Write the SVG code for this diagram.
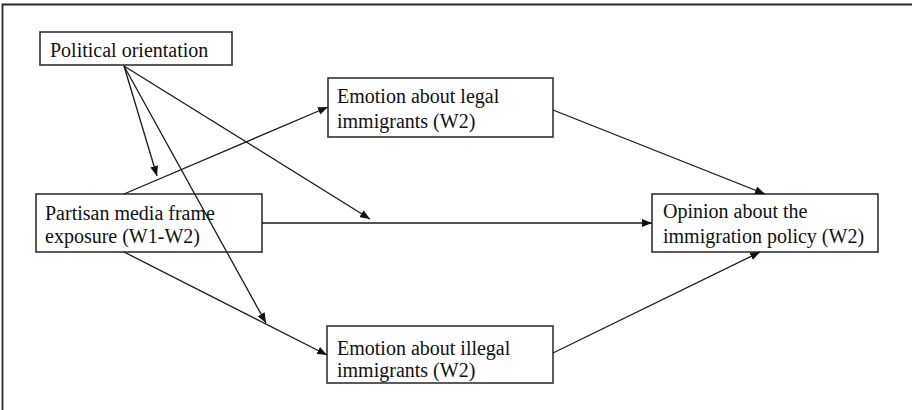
<svg xmlns="http://www.w3.org/2000/svg" width="912" height="410" viewBox="0 0 912 410">
<defs>
<marker id="ah" markerUnits="userSpaceOnUse" markerWidth="10" markerHeight="8" refX="10" refY="4" orient="auto">
<path d="M0,0 L10,4 L0,8 z" fill="#111"/>
</marker>
<style>
.box{fill:#fff;stroke:#333;stroke-width:1.6}
.t{font-family:"Liberation Serif","Times New Roman",serif;font-size:20px;fill:#111}
.c{stroke:#1a1a1a;stroke-width:1.3;fill:none;marker-end:url(#ah)}
</style>
</defs>
<rect x="0" y="0" width="912" height="410" fill="#fff"/>
<path d="M2.5,415 V4.5 H920" fill="none" stroke="#2a2a2a" stroke-width="1.8"/>
<g id="political">
<rect class="box" x="40" y="32" width="192" height="33"/>
<text class="t" x="50" y="57">Political orientation</text>
</g>
<g id="legal">
<rect class="box" x="328" y="78" width="225" height="59"/>
<text class="t" x="337" y="103">Emotion about legal</text>
<text class="t" x="337" y="128">immigrants (W2)</text>
</g>
<g id="partisan">
<rect class="box" x="36" y="194" width="226" height="58"/>
<text class="t" x="45" y="220">Partisan media frame</text>
<text class="t" x="45" y="243">exposure (W1-W2)</text>
</g>
<g id="opinion">
<rect class="box" x="652" y="194" width="226" height="58"/>
<text class="t" x="663" y="218">Opinion about the</text>
<text class="t" x="663" y="243">immigration policy (W2)</text>
</g>
<g id="illegal">
<rect class="box" x="327" y="326" width="226" height="57"/>
<text class="t" x="337" y="355">Emotion about illegal</text>
<text class="t" x="337" y="377">immigrants (W2)</text>
</g>
<g id="connectors">
<line class="c" x1="124" y1="66" x2="157" y2="176"/>
<line class="c" x1="124" y1="66" x2="266" y2="323"/>
<line class="c" x1="124" y1="66" x2="370" y2="219"/>
<line class="c" x1="124" y1="194" x2="328" y2="107"/>
<line class="c" x1="262" y1="223" x2="652" y2="223"/>
<line class="c" x1="124" y1="252" x2="327" y2="355"/>
<line class="c" x1="553" y1="110" x2="765" y2="194"/>
<line class="c" x1="553" y1="353" x2="760" y2="252"/>
</g>
</svg>
